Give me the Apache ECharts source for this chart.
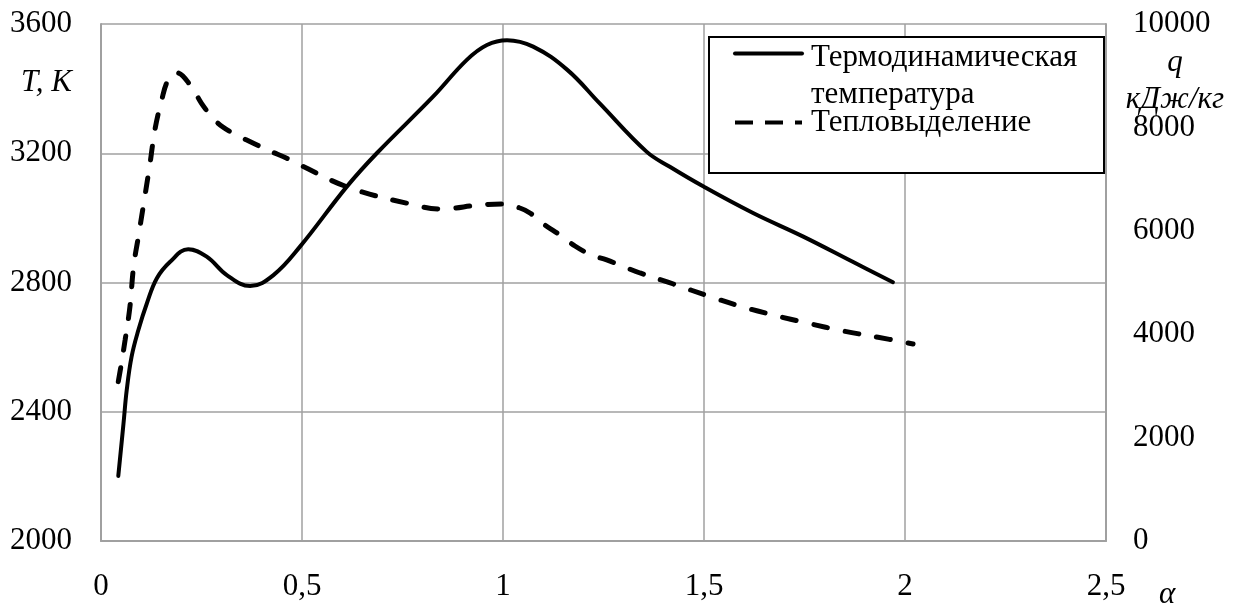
<!DOCTYPE html>
<html>
<head>
<meta charset="utf-8">
<script src="https://cdn.jsdelivr.net/npm/echarts@6/dist/echarts.min.js"></script>
<style>
  html, body { margin: 0; padding: 0; background: #fff; }
  #chart { width: 1248px; height: 610px; }
</style>
</head>
<body>
<div id="chart"></div>
<script>
// α values and thermodynamic temperature T, K (left axis)
const alphaT = [0.043, 0.056, 0.064, 0.076, 0.093, 0.114, 0.139, 0.172, 0.217, 0.263, 0.313, 0.371, 0.429,
  0.495, 0.611, 0.686, 0.826, 0.91, 0.96, 1.01, 1.075, 1.16, 1.24, 1.357, 1.415, 1.5,
  1.622, 1.747, 1.87, 1.97];
const tempT = [2201, 2364, 2467, 2570, 2653, 2735, 2813, 2864, 2903, 2880, 2823, 2789, 2823,
  2911, 3096, 3200, 3375, 3489, 3535, 3550, 3530, 3458, 3355, 3205, 3158, 3096,
  3015, 2942, 2864, 2801];

// α values and heat release q, кДж/кг (right axis)
const alphaQ = [0.043, 0.051, 0.06, 0.072, 0.081, 0.093, 0.105, 0.122, 0.134, 0.151, 0.167, 0.188,
  0.225, 0.25, 0.279, 0.304, 0.337, 0.383, 0.42, 0.462, 0.495, 0.62, 0.78, 0.843, 0.943, 1.0, 1.042,
  1.067, 1.104, 1.142, 1.179, 1.22, 1.258, 1.3, 1.341, 1.424, 1.51, 1.594, 1.672, 1.759, 1.846,
  1.933, 2.02];
const heatQ = [3082, 3444, 3889, 4533, 5306, 5886, 6467, 7306, 7950, 8530, 8917, 9058,
  8787, 8466, 8176, 8002, 7853, 7679, 7544, 7403, 7273, 6828, 6500, 6422, 6500, 6519, 6441,
  6345, 6113, 5919, 5706, 5532, 5436, 5307, 5184, 4971, 4740, 4533, 4372, 4211, 4063,
  3941, 3811];

const seriesNames = ['Термодинамическая температура', 'Тепловыделение'];

const font = "'Liberation Serif', 'Times New Roman', serif";
const fontSize = 31;
const gridColor = '#a0a0a0';

const chart = echarts.init(document.getElementById('chart'));

function zip(xs, ys) {
  return xs.map((x, i) => [x, ys[i]]);
}

const option = {
  animation: false,
  backgroundColor: '#fff',
  textStyle: { fontFamily: font, color: '#000' },
  grid: { left: 101, right: 142, top: 24, bottom: 69, containLabel: false, outerBoundsMode: 'none' },
  graphic: [{
    type: 'rect',
    left: 708, top: 36,
    shape: { width: 395, height: 136 },
    style: { fill: '#fff', stroke: '#000', lineWidth: 2 },
    z: 50
  }],
  legend: {
    orient: 'vertical',
    left: 733, top: -6,
    padding: 0,
    itemGap: -9,
    itemWidth: 67,
    itemHeight: 2,
    z: 60,
    formatter: name => name === seriesNames[0]
      ? '{s| }\n{a|Термодинамическая}\n{a|температура}'
      : '{a|' + name + '}',
    textStyle: {
      fontFamily: font, fontSize: fontSize, color: '#000', lineHeight: 37,
      rich: {
        s: { fontSize: 2, lineHeight: 45 },
        a: { fontFamily: font, fontSize: fontSize, color: '#000', lineHeight: 37, padding: [0, 0, 0, 4] }
      }
    },
    data: [
      { name: seriesNames[0], lineStyle: { width: 4, type: 'solid' } },
      { name: seriesNames[1], lineStyle: { width: 4, type: [18, 12], cap: 'butt' } }
    ]
  },
  xAxis: {
    type: 'value',
    min: 0, max: 2.5, interval: 0.5,
    name: '{s| }\n{a|α}',
    nameLocation: 'end',
    nameGap: 53,
    nameMoveOverlap: false,
    nameTextStyle: {
      verticalAlign: 'middle',
      rich: {
        s: { fontSize: 2, lineHeight: 108 },
        a: { fontFamily: font, fontSize: fontSize, fontStyle: 'italic', color: '#000', lineHeight: 31 }
      }
    },
    axisLine: { show: true, lineStyle: { color: gridColor, width: 2 } },
    axisTick: { show: false },
    splitLine: { show: true, lineStyle: { color: gridColor, width: 1.5 } },
    axisLabel: {
      margin: 30,
      fontFamily: font, fontSize: fontSize, color: '#000',
      formatter: v => String(v).replace('.', ',')
    }
  },
  yAxis: [{
    type: 'value',
    min: 2000, max: 3600, interval: 400,
    name: 'T, K',
    nameLocation: 'end',
    nameGap: -59,
    nameMoveOverlap: false,
    nameTextStyle: { fontFamily: font, fontSize: fontSize, fontStyle: 'italic', color: '#000',
      align: 'right', verticalAlign: 'middle', padding: [0, 29, 0, 0] },
    axisLine: { show: true, lineStyle: { color: gridColor, width: 2 } },
    axisTick: { show: false },
    splitLine: { show: true, lineStyle: { color: gridColor, width: 1.5 } },
    axisLabel: { margin: 29, fontFamily: font, fontSize: fontSize, color: '#000', formatter: v => String(v) }
  }, {
    type: 'value',
    position: 'right',
    min: 0, max: 10000, interval: 2000,
    name: 'q\nкДж/кг',
    nameLocation: 'end',
    nameGap: -57,
    nameMoveOverlap: false,
    nameTextStyle: { fontFamily: font, fontSize: fontSize, fontStyle: 'italic', color: '#000',
      align: 'center', verticalAlign: 'middle', lineHeight: 37, padding: [0, 0, 0, 138] },
    axisLine: { show: true, lineStyle: { color: gridColor, width: 2 } },
    axisTick: { show: false },
    splitLine: { show: false },
    axisLabel: { margin: 27, fontFamily: font, fontSize: fontSize, color: '#000', formatter: v => String(v) }
  }],
  series: [{
    name: seriesNames[0],
    type: 'line',
    yAxisIndex: 0,
    data: zip(alphaT, tempT),
    showSymbol: false,
    symbol: 'none',
    smooth: 0.4,
    color: '#000',
    lineStyle: { color: '#000', width: 4, cap: 'round' },
    z: 10
  }, {
    name: seriesNames[1],
    type: 'line',
    yAxisIndex: 1,
    data: zip(alphaQ, heatQ),
    showSymbol: false,
    symbol: 'none',
    smooth: 0.4,
    color: '#000',
    lineStyle: { color: '#000', width: 5, type: [14, 18], cap: 'round' },
    z: 10
  }]
};

chart.setOption(option);
</script>
</body>
</html>
